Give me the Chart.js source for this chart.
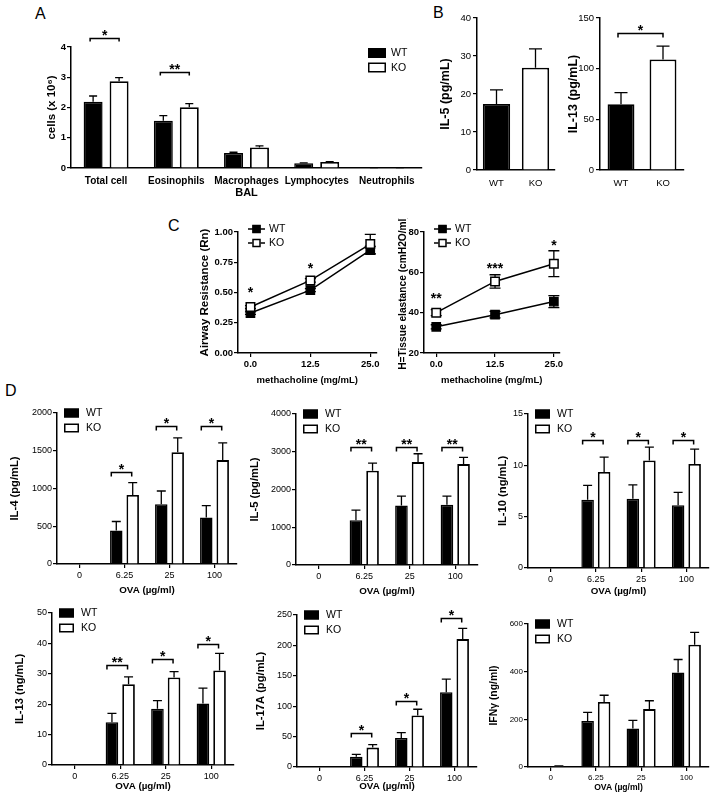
<!DOCTYPE html>
<html><head><meta charset="utf-8">
<script src="https://cdn.jsdelivr.net/npm/chart.js@4.4.0/dist/chart.umd.min.js"></script>
<style>
body{margin:0;background:#fff;width:715px;height:804px;position:relative;overflow:hidden;font-family:"Liberation Sans",Arial,Helvetica,sans-serif;}
canvas{position:absolute;}
.lbl{position:absolute;font-size:16px;line-height:16px;color:#000;}
</style></head><body>
<div class="lbl" style="left:35px;top:6px">A</div>
<div class="lbl" style="left:433px;top:5px">B</div>
<div class="lbl" style="left:168px;top:218px">C</div>
<div class="lbl" style="left:5px;top:383px">D</div>
<script>
// ---------- DATA ----------
// Panel A: BAL cell counts (x10^6)
const balCells = ['Total cell', 'Eosinophils', 'Macrophages', 'Lymphocytes', 'Neutrophils'];
const balWT = [2.19, 1.56, 0.50, 0.16, 0.01];
const balWTsem = [0.19, 0.17, 0.02, 0.01, 0.005];
const balKO = [2.87, 2.01, 0.68, 0.20, 0.01];
const balKOsem = [0.12, 0.12, 0.05, 0.01, 0.005];
const balSig = ['*', '**', '', '', ''];
const balBracket = [4.31, 3.17, null, null, null];
const balTicks = [0, 1, 2, 3, 4];

// Panel B: BAL cytokines
const genotypes = ['WT', 'KO'];
const bIL5 = [17.4, 26.9];
const bIL5sem = [3.7, 5.0];
const bIL5Ticks = [0, 10, 20, 30, 40];
const bIL13 = [65, 109];
const bIL13sem = [11.4, 13.3];
const bIL13Sig = ['*'];
const bIL13Bracket = [135];
const bIL13Ticks = [0, 50, 100, 150];

// Panel C: lung function vs methacholine
const mchDose = [0, 12.5, 25];
const rnWT = [0.33, 0.52, 0.85];
const rnWTsem = [0.01, 0.012, 0.03];
const rnKO = [0.38, 0.60, 0.90];
const rnKOsem = [0.012, 0.015, 0.08];
const rnSig = ['*', '*', ''];
const rnSigLevel = [0.53, 0.725, null];
const rnTicks = [0, 0.25, 0.5, 0.75, 1.0];
const hWT = [33.0, 39.0, 45.5];
const hWTsem = [1.0, 1.6, 3.0];
const hKO = [40.0, 55.5, 64.3];
const hKOsem = [1.5, 3.3, 6.4];
const hSig = ['**', '***', '*'];
const hSigLevel = [48.9, 63.8, 74.8];
const hTicks = [20, 40, 60, 80];

// Panel D: restimulation with OVA
const ovaDose = ['0', '6.25', '25', '100'];
const il4WT = [0, 444, 791, 615];      const il4WTsem = [0, 119, 176, 159];
const il4KO = [0, 914, 1481, 1376];    const il4KOsem = [0, 163, 189, 228];
const il4Sig = ['', '*', '*', '*'];    const il4Bracket = [null, 1215, 1825, 1825];
const il4Ticks = [0, 500, 1000, 1500, 2000];

const il5WT = [0, 1186, 1575, 1593];   const il5WTsem = [0, 265, 248, 230];
const il5KO = [0, 2496, 2726, 2673];   const il5KOsem = [0, 203, 221, 177];
const il5Sig = ['', '**', '**', '**']; const il5Bracket = [null, 3130, 3130, 3130];
const il5Ticks = [0, 1000, 2000, 3000, 4000];

const il10WT = [0, 6.65, 6.75, 6.10]; const il10WTsem = [0, 1.40, 1.34, 1.27];
const il10KO = [0, 9.36, 10.47, 10.14]; const il10KOsem = [0, 1.43, 1.30, 1.43];
const il10Sig = ['', '*', '*', '*'];  const il10Bracket = [null, 12.5, 12.5, 12.5];
const il10Ticks = [0, 5, 10, 15];

const il13WT = [0, 14.1, 18.5, 20.2]; const il13WTsem = [0, 2.9, 2.7, 5.1];
const il13KO = [0, 26.6, 28.8, 31.1]; const il13KOsem = [0, 2.4, 1.9, 5.6];
const il13Sig = ['', '**', '*', '*']; const il13Bracket = [null, 32.9, 35.0, 39.8];
const il13Ticks = [0, 10, 20, 30, 40, 50];

const il17WT = [0, 17, 47.8, 123];    const il17WTsem = [0, 3.9, 8.8, 21.5];
const il17KO = [0, 31.9, 84.6, 210.4]; const il17KOsem = [0, 4.9, 10.4, 17.6];
const il17Sig = ['', '*', '*', '*'];  const il17Bracket = [null, 55.5, 108.8, 245.6];
const il17Ticks = [0, 50, 100, 150, 200, 250];

const ifnWT = [3, 193, 162, 396];     const ifnWTsem = [0, 36, 34, 55];
const ifnKO = [4, 273, 243, 513];     const ifnKOsem = [1, 28, 35, 52];
const ifnTicks = [0, 200, 400, 600];

// ---------- HELPERS ----------
const FONT = '"Liberation Sans", Arial, Helvetica, sans-serif';
Chart.defaults.font.family = FONT;
Chart.defaults.color = '#000';

function makeCanvas(a, m) {
  const c = document.createElement('canvas');
  const left = a.l - m.yw, top = a.t - m.tp;
  const w = a.r + m.rp - left, h = a.b + m.xh - top;
  c.width = w; c.height = h;
  Object.assign(c.style, {left: left + 'px', top: top + 'px', width: w + 'px', height: h + 'px'});
  document.body.appendChild(c);
  return c;
}

function f(size, bold) { return {family: FONT, size: size, weight: bold ? 'bold' : 'normal'}; }

function yScale(ticks, o) {
  return {
    type: 'linear', min: ticks[0], max: ticks[ticks.length - 1],
    afterBuildTicks: s => { s.ticks = ticks.map(v => ({value: v})); },
    afterFit: s => { s.width = o.yw; },
    grid: {display: true, drawOnChartArea: false, drawTicks: true, tickLength: 4, color: '#000', lineWidth: 1.2},
    border: {display: true, color: '#000', width: 1.5},
    ticks: {font: o.tickFont, padding: o.tickPad == null ? 1 : o.tickPad, color: '#000', callback: o.fmt || (v => String(v))},
    title: {display: true, text: o.title, font: o.titleFont, color: '#000', padding: {top: 4, bottom: 4}}
  };
}

function xCat(labels, o) {
  return {
    type: 'category', labels: labels, offset: true,
    afterFit: s => { s.height = o.xh; },
    grid: {display: !!o.xTicks, drawOnChartArea: false, drawTicks: true, tickLength: 4, offset: false, color: '#000', lineWidth: 1.2},
    border: {display: true, color: '#000', width: 1.5},
    ticks: {font: o.xTickFont, padding: o.xPad, color: '#000', maxRotation: 0, minRotation: 0, autoSkip: false},
    title: {display: !!o.xTitle, text: o.xTitle, font: o.xTitleFont, color: '#000', padding: {top: 4, bottom: 4}}
  };
}

function baseOptions(m, scales, extras) {
  return {
    responsive: false, maintainAspectRatio: false, animation: false, devicePixelRatio: 1, events: [],
    layout: {padding: {top: m.tp, right: m.rp, left: 0, bottom: 0}},
    scales: scales,
    plugins: {legend: {display: false}, tooltip: {enabled: false}, extras: extras}
  };
}

// Error bars, significance brackets and legend for bar charts
const barExtras = {
  id: 'extras',
  afterDatasetsDraw(chart, args, o) {
    const ctx = chart.ctx, ys = chart.scales.y, ca = chart.chartArea;
    const dsets = chart.data.datasets;
    ctx.save();
    ctx.strokeStyle = '#000'; ctx.fillStyle = '#000';
    ctx.lineWidth = 1.3;
    dsets.forEach((ds, di) => {
      if (!ds.sem) return;
      chart.getDatasetMeta(di).data.forEach((bar, i) => {
        const e = ds.sem[i]; if (!e) return;
        const y0 = ys.getPixelForValue(ds.data[i]), y1 = ys.getPixelForValue(ds.data[i] + e);
        const x = bar.x;
        ctx.beginPath(); ctx.moveTo(x, y0); ctx.lineTo(x, y1);
        ctx.moveTo(x - o.cap / 2, y1); ctx.lineTo(x + o.cap / 2, y1); ctx.stroke();
      });
    });
    if (o.sig) {
      const m0 = chart.getDatasetMeta(0).data;
      const m1 = dsets.length > 1 ? chart.getDatasetMeta(1).data : null;
      o.sig.forEach((s, i) => {
        if (!s) return;
        const a = m1 ? m0[i] : m0[0], b = m1 ? m1[i] : m0[1];
        const x0 = a.x + o.bx0, x1 = b.x + o.bx1;
        const y = Math.round(ys.getPixelForValue(o.bracket[i])) + 0.5;
        ctx.lineWidth = 1.5;
        ctx.beginPath(); ctx.moveTo(x0, y + o.tick); ctx.lineTo(x0, y); ctx.lineTo(x1, y); ctx.lineTo(x1, y + o.tick); ctx.stroke();
        ctx.font = 'bold ' + o.starSize + 'px ' + FONT;
        ctx.textAlign = 'center'; ctx.textBaseline = 'alphabetic';
        ctx.fillText(s, (x0 + x1) / 2, y + o.starGap);
      });
    }
    if (o.legend) {
      const L = o.legend;
      const bx = L.anchor === 'right' ? ca.right + L.dx : ca.left + L.dx;
      dsets.forEach((ds, k) => {
        const cy = ca.top + L.dy + k * L.row;
        ctx.fillStyle = ds.backgroundColor;
        ctx.fillRect(bx, cy - L.bh / 2, L.bw, L.bh);
        ctx.lineWidth = 1.5; ctx.strokeStyle = '#000';
        ctx.strokeRect(bx + 0.75, cy - L.bh / 2 + 0.75, L.bw - 1.5, L.bh - 1.5);
        ctx.fillStyle = '#000';
        ctx.font = L.size + 'px ' + FONT; ctx.textAlign = 'left'; ctx.textBaseline = 'middle';
        ctx.fillText(ds.label, bx + L.bw + L.gap, cy + 0.5);
      });
    }
    ctx.restore();
  }
};

// Error bars, stars and legend for line charts
const lineExtras = {
  id: 'extras',
  beforeDatasetsDraw(chart, args, o) {
    const ctx = chart.ctx, xs = chart.scales.x, ys = chart.scales.y;
    ctx.save(); ctx.strokeStyle = '#000'; ctx.lineWidth = 1.3;
    chart.data.datasets.forEach(ds => {
      ds.data.forEach((p, i) => {
        const e = ds.sem[i]; if (!e) return;
        const x = xs.getPixelForValue(p.x);
        const y0 = ys.getPixelForValue(p.y - e), y1 = ys.getPixelForValue(p.y + e);
        ctx.beginPath(); ctx.moveTo(x, y0); ctx.lineTo(x, y1);
        ctx.moveTo(x - o.cap / 2, y0); ctx.lineTo(x + o.cap / 2, y0);
        ctx.moveTo(x - o.cap / 2, y1); ctx.lineTo(x + o.cap / 2, y1);
        ctx.stroke();
      });
    });
    ctx.restore();
  },
  afterDatasetsDraw(chart, args, o) {
    const ctx = chart.ctx, xs = chart.scales.x, ys = chart.scales.y, ca = chart.chartArea;
    ctx.save(); ctx.fillStyle = '#000';
    ctx.font = 'bold ' + o.starSize + 'px ' + FONT; ctx.textAlign = 'center'; ctx.textBaseline = 'alphabetic';
    o.sig.forEach((s, i) => {
      if (!s) return;
      ctx.fillText(s, xs.getPixelForValue(o.xs[i]), ys.getPixelForValue(o.level[i]) + 0.57 * o.starSize);
    });
    const L = o.legend;
    chart.data.datasets.forEach((ds, k) => {
      const cy = ca.top + L.dy + k * L.row;
      ctx.strokeStyle = '#000'; ctx.lineWidth = 1.5;
      ctx.beginPath(); ctx.moveTo(ca.left + L.x0, cy); ctx.lineTo(ca.left + L.x1, cy); ctx.stroke();
      const mx = ca.left + (L.x0 + L.x1) / 2;
      ctx.fillStyle = ds.pointBackgroundColor;
      ctx.fillRect(mx - 4, cy - 4, 8, 8);
      ctx.strokeRect(mx - 3.5, cy - 3.5, 7, 7);
      ctx.fillStyle = '#000';
      ctx.font = L.size + 'px ' + FONT; ctx.textAlign = 'left'; ctx.textBaseline = 'middle';
      ctx.fillText(ds.label, ca.left + L.tx, cy + 0.5);
    });
    ctx.restore();
  }
};

function barDatasets(wt, wtSem, ko, koSem, cat, bar) {
  return [
    {label: 'WT', data: wt, sem: wtSem, backgroundColor: '#000', borderColor: '#000', borderWidth: 1.5, categoryPercentage: cat, barPercentage: bar},
    {label: 'KO', data: ko, sem: koSem, backgroundColor: '#fff', borderColor: '#000', borderWidth: 1.8, categoryPercentage: cat, barPercentage: bar}
  ];
}

// ---------- PANEL A ----------
(function () {
  const a = {l: 71, t: 47, r: 422, b: 168}, m = {yw: 30, xh: 36, tp: 27, rp: 8};
  new Chart(makeCanvas(a, m), {
    type: 'bar',
    data: {labels: balCells, datasets: barDatasets(balWT, balWTsem, balKO, balKOsem, 0.74, 0.73)},
    options: baseOptions(m, {
      x: xCat(balCells, {xh: m.xh, xTicks: false, xTickFont: f(10, true), xPad: 3, xTitle: 'BAL', xTitleFont: f(11, true)}),
      y: yScale(balTicks, {yw: m.yw, tickFont: f(9.5, true), title: 'cells (x 10\u2076)', titleFont: f(11.5, true)})
    }, {cap: 8, sig: balSig, bracket: balBracket, bx0: -3, bx1: 0, tick: 3, starSize: 14, starGap: 1,
        legend: {anchor: 'right', dx: -54, dy: 6, row: 14.5, bw: 18, bh: 10, gap: 5, size: 10.5}}),
    plugins: [barExtras]
  });
})();

// ---------- PANEL B ----------
function bChart(a, m, vals, sem, ticks, title, sig, bracket, barPct) {
  new Chart(makeCanvas(a, m), {
    type: 'bar',
    data: {labels: genotypes, datasets: [{label: 'x', data: vals, sem: sem, backgroundColor: ['#000', '#fff'], borderColor: '#000', borderWidth: 1.8, categoryPercentage: 1, barPercentage: barPct}]},
    options: baseOptions(m, {
      x: xCat(genotypes, {xh: m.xh, xTicks: false, xTickFont: f(9.5, false), xPad: 4}),
      y: yScale(ticks, {yw: m.yw, tickFont: f(9.5, false), tickPad: 2, title: title, titleFont: f(12.5, true)})
    }, {cap: 13, sig: sig, bracket: bracket, bx0: -3, bx1: 0, tick: 4, starSize: 14, starGap: 1}),
    plugins: [barExtras]
  });
}
bChart({l: 477, t: 18, r: 555, b: 170}, {yw: 43, xh: 24, tp: 12, rp: 5}, bIL5, bIL5sem, bIL5Ticks, 'IL-5 (pg/mL)', null, null, 0.7);
bChart({l: 600, t: 18, r: 684, b: 170}, {yw: 38, xh: 24, tp: 12, rp: 5}, bIL13, bIL13sem, bIL13Ticks, 'IL-13 (pg/mL)', bIL13Sig, bIL13Bracket, 0.64);

// ---------- PANEL C ----------
function cChart(a, m, xmin, xmax, wt, wtSem, ko, koSem, ticks, fmt, title, titleSize, sig, level) {
  const pts = arr => mchDose.map((x, i) => ({x: x, y: arr[i]}));
  new Chart(makeCanvas(a, m), {
    type: 'line',
    data: {datasets: [
      {label: 'WT', data: pts(wt), sem: wtSem, order: 1, borderColor: '#000', borderWidth: 1.5, pointStyle: 'rect', pointRadius: 6, pointBackgroundColor: '#000', pointBorderColor: '#000', pointBorderWidth: 1.2, fill: false, tension: 0},
      {label: 'KO', data: pts(ko), sem: koSem, order: 0, borderColor: '#000', borderWidth: 1.5, pointStyle: 'rect', pointRadius: 6, pointBackgroundColor: '#fff', pointBorderColor: '#000', pointBorderWidth: 1.5, fill: false, tension: 0}
    ]},
    options: baseOptions(m, {
      x: {
        type: 'linear', min: xmin, max: xmax,
        afterBuildTicks: s => { s.ticks = mchDose.map(v => ({value: v})); },
        afterFit: s => { s.height = m.xh; },
        grid: {display: true, drawOnChartArea: false, drawTicks: true, tickLength: 4, color: '#000', lineWidth: 1.2},
        border: {display: true, color: '#000', width: 1.5},
        ticks: {font: f(9.5, true), padding: 2, color: '#000', maxRotation: 0, autoSkip: false, callback: v => Number(v).toFixed(1)},
        title: {display: true, text: 'methacholine (mg/mL)', font: f(9.5, true), color: '#000', padding: {top: 4, bottom: 4}}
      },
      y: yScale(ticks, {yw: m.yw, tickFont: f(9.5, true), tickPad: 1, fmt: fmt, title: title, titleFont: f(titleSize, true)})
    }, {cap: 11, sig: sig, level: level, xs: mchDose, starSize: 14,
        legend: {x0: 10, x1: 27, tx: 31, dy: -3, row: 14, size: 10.5}}),
    plugins: [lineExtras]
  });
}
cChart({l: 238, t: 232, r: 378, b: 353}, {yw: 44, xh: 37, tp: 14, rp: 6}, -2.6, 26.3, rnWT, rnWTsem, rnKO, rnKOsem, rnTicks, v => Number(v).toFixed(2), 'Airway Resistance (Rn)', 11.5, rnSig, rnSigLevel);
cChart({l: 424, t: 232, r: 561, b: 353}, {yw: 31, xh: 37, tp: 14, rp: 6}, -2.6, 26.2, hWT, hWTsem, hKO, hKOsem, hTicks, v => String(v), 'H=Tissue elastance (cmH2O/ml)', 10.2, hSig, hSigLevel);

// ---------- PANEL D ----------
function dChart(a, m, wt, wtSem, ko, koSem, ticks, title, sig, bracket, small) {
  const tf = small ? 8 : 9, ttf = small ? 10.4 : 11.2, xtf = small ? 8.6 : 9.8;
  new Chart(makeCanvas(a, m), {
    type: 'bar',
    data: {labels: ovaDose, datasets: barDatasets(wt, wtSem, ko, koSem, 0.73, 0.76)},
    options: baseOptions(m, {
      x: xCat(ovaDose, {xh: m.xh, xTicks: true, xTickFont: f(tf, false), xPad: 2, xTitle: 'OVA (\u00b5g/ml)', xTitleFont: f(xtf, true)}),
      y: yScale(ticks, {yw: m.yw, tickFont: f(tf, false), tickPad: 1, title: title, titleFont: f(ttf, true)})
    }, {cap: 9, sig: sig, bracket: bracket, bx0: -5, bx1: -1, tick: 4, starSize: 14, starGap: 1,
        legend: {anchor: 'left', dx: 7, dy: 0, row: 15, bw: 15, bh: 9, gap: 7, size: 10.5}}),
    plugins: [barExtras]
  });
}
dChart({l: 57, t: 413, r: 237, b: 564}, {yw: 53, xh: 36, tp: 10, rp: 3}, il4WT, il4WTsem, il4KO, il4KOsem, il4Ticks, 'IL-4 (pg/mL)', il4Sig, il4Bracket);
dChart({l: 296, t: 414, r: 478, b: 565}, {yw: 52, xh: 36, tp: 10, rp: 3}, il5WT, il5WTsem, il5KO, il5KOsem, il5Ticks, 'IL-5 (pg/mL)', il5Sig, il5Bracket);
dChart({l: 528, t: 414, r: 709, b: 568}, {yw: 36, xh: 33, tp: 10, rp: 4}, il10WT, il10WTsem, il10KO, il10KOsem, il10Ticks, 'IL-10 (ng/mL)', il10Sig, il10Bracket);
dChart({l: 52, t: 613, r: 234, b: 765}, {yw: 43, xh: 31, tp: 10, rp: 3}, il13WT, il13WTsem, il13KO, il13KOsem, il13Ticks, 'IL-13 (ng/mL)', il13Sig, il13Bracket);
dChart({l: 297, t: 615, r: 477, b: 767}, {yw: 47, xh: 29, tp: 10, rp: 3}, il17WT, il17WTsem, il17KO, il17KOsem, il17Ticks, 'IL-17A (pg/mL)', il17Sig, il17Bracket);
dChart({l: 528, t: 624, r: 709, b: 767}, {yw: 44, xh: 30, tp: 10, rp: 4}, ifnWT, ifnWTsem, ifnKO, ifnKOsem, ifnTicks, 'IFN\u03b3 (ng/ml)', null, null, true);
</script>
</body></html>
